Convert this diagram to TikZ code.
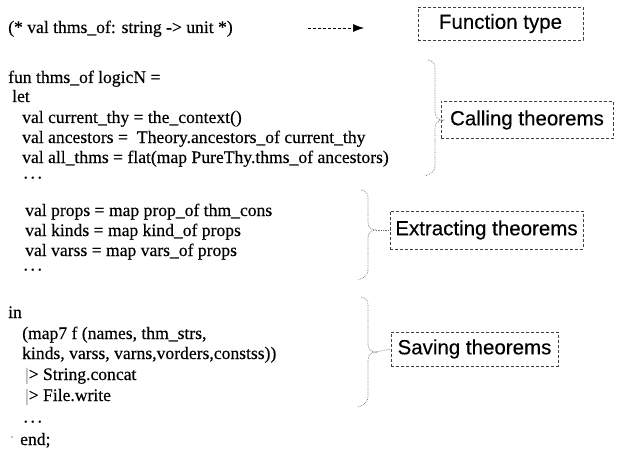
\documentclass[tikz,border=0pt]{standalone}
\usepackage{fontspec}
\setmainfont{Liberation Serif}[BoldFont=Liberation Serif, BoldFeatures={FakeBold=0.35}]
\newfontfamily\labelfont{Liberation Sans}[BoldFont=Liberation Sans, BoldFeatures={FakeBold=0.25}]
\usetikzlibrary{arrows.meta}

\tikzset{
  code/.style={anchor=base west, inner sep=0pt, font=\bfseries\fontsize{17.6}{20}\selectfont},
  dots/.style={anchor=west, inner sep=0pt, font=\fontsize{10}{10}\selectfont},
  tag/.style={draw=black!75, densely dashed, line width=0.6pt, inner sep=0pt,
              font=\labelfont\bfseries\fontsize{20.5}{24}\selectfont},
  bracesty/.style={draw=black!55, densely dotted, line width=0.7pt},
  pipe/.style={color=black!45}
}

% dotted right-hand brace: x, top, middle, bottom, name of its tip
\newcommand\sidebrace[5]{%
  \draw[bracesty] ({#1-7},#2) .. controls ({#1-2},{#2+1}) and (#1,{#2+3}) .. (#1,{#2+8})
    -- (#1,{#3-8}) .. controls (#1,{#3-3}) and ({#1+3},#3) .. ({#1+8},#3)
    .. controls ({#1+3},#3) and (#1,{#3+3}) .. (#1,{#3+8})
    -- (#1,{#4-8}) .. controls (#1,{#4-3}) and ({#1-4},#4) .. ({#1-10},{#4+2});
  \coordinate (#5) at ({#1+8},#3);}

\newcommand\threedots{\textbullet\hskip3.5pt\textbullet\hskip3.5pt\textbullet}

\begin{document}
\begin{tikzpicture}[x=1pt,y=-1pt]
\useasboundingbox (0,0) rectangle (618,468);

% source code
\node[code] (c1)  at (8,33)   {(* val thms\_of: string -> unit *)};
\node[code] (c2)  at (8,83)   {fun thms\_of logicN =};
\node[code] (c3)  at (12,102) {let};
\node[code] (c4)  at (22,123) {val current\_thy = the\_context()};
\node[code] (c5)  at (22,143) {val ancestors =\hskip9pt Theory.ancestors\_of current\_thy};
\node[code] (c6)  at (22,163) {val all\_thms = flat(map PureThy.thms\_of ancestors)};
\node[dots] (c7)  at (24,179) {\threedots};
\node[code] (c8)  at (25,216) {val props = map prop\_of thm\_cons};
\node[code] (c9)  at (25,236) {val kinds = map kind\_of props};
\node[code] (c10) at (25,256) {val varss = map vars\_of props};
\node[dots] (c11) at (24,271) {\threedots};
\node[code] (c12) at (8,318)  {in};
\node[code] (c13) at (22,339) {(map7 f (names, thm\_strs,};
\node[code] (c14) at (22,359) {kinds, varss, varns,vorders,constss))};
\node[code] (c15) at (25,380) {{\color{black!45}|}> String.concat};
\node[code] (c16) at (25,401) {{\color{black!45}|}> File.write};
\node[dots] (c17) at (24,423) {\threedots};
\node[code] (c18) at (20,445) {end;};
\fill[black!50] (12,437) circle (0.8);

% labels
\node[tag, minimum width=165, minimum height=33] (ftype)   at (500.5,23.5) {Function type};
\node[tag, minimum width=172, minimum height=37] (calling) at (527,120)    {Calling theorems};
\node[tag, minimum width=193, minimum height=38] (extract) at (486.5,230)  {Extracting theorems};
\node[tag, minimum width=167, minimum height=34] (saving)  at (474.5,349)  {Saving theorems};

% arrow to the function type
\coordinate (ftail) at (308,28);
\coordinate (fhead) at (364,28);
\draw[densely dashed, line width=0.7pt, -{Latex[length=11pt,width=8pt]}] (ftail) -- (fhead);

% braces grouping the code
\sidebrace{435}{60}{120}{174}{tipC}
\sidebrace{368}{190}{230}{278}{tipE}
\sidebrace{368}{297}{352}{405}{tipS}
\draw[bracesty] (tipC) -- (calling.west);
\draw[bracesty] (tipE) -- (extract.west);
\draw[bracesty] (tipS) -- (saving.west);
\end{tikzpicture}
\end{document}
